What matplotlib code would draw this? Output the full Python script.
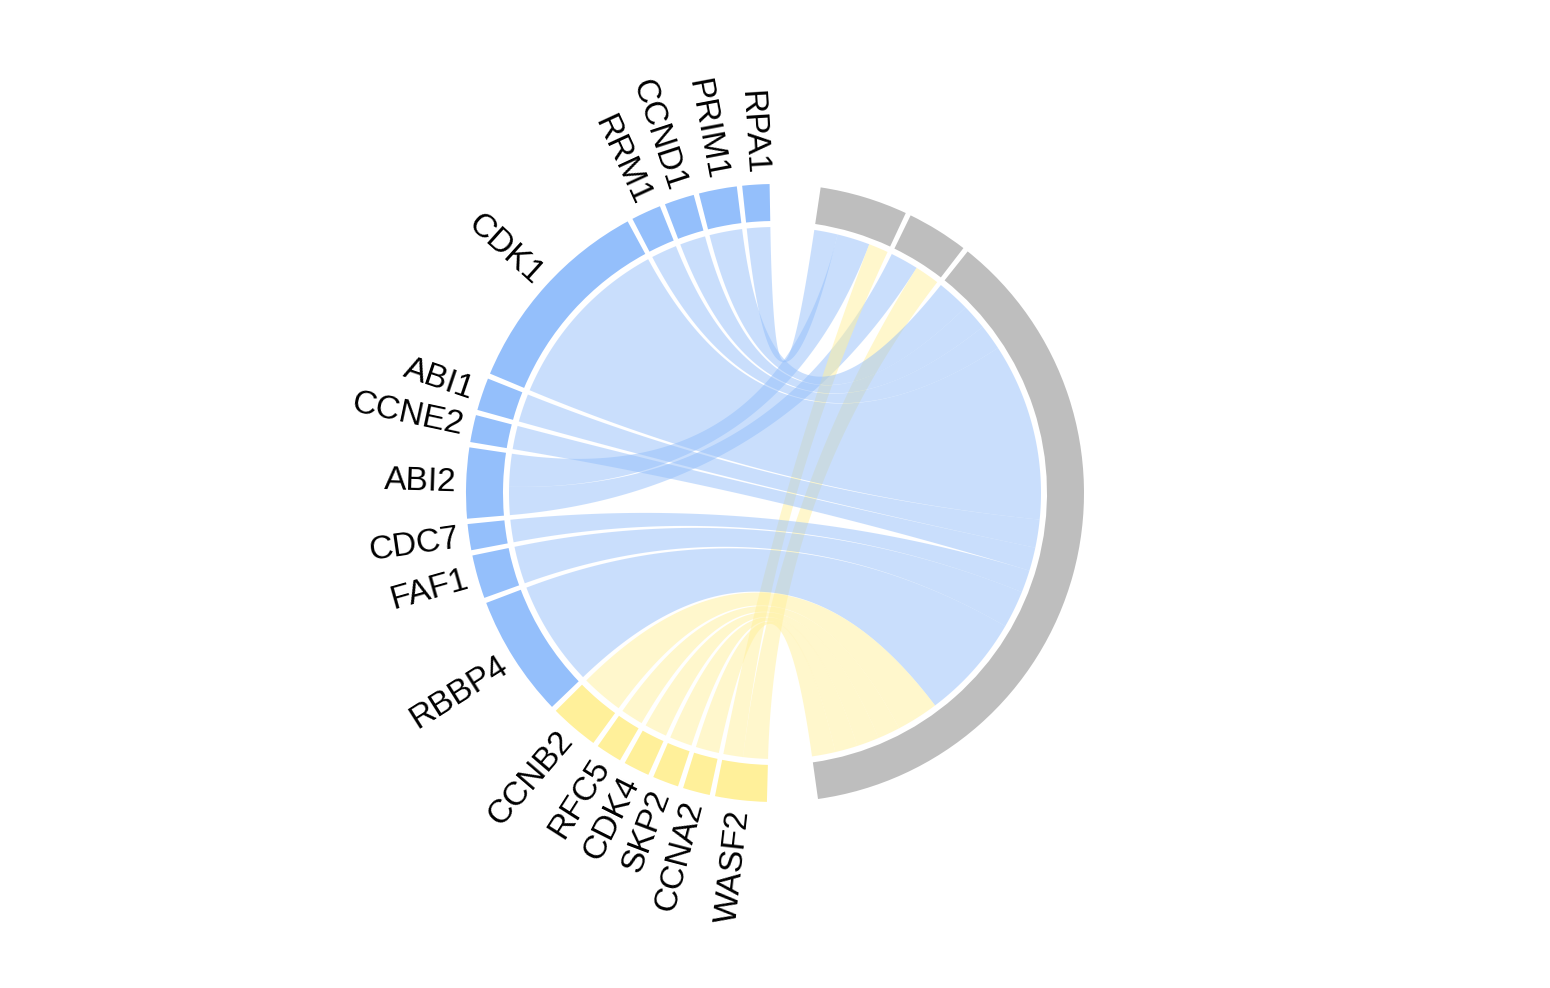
import numpy as np
import matplotlib.pyplot as plt
from matplotlib.colors import to_rgba
from matplotlib.patches import Wedge, Polygon

plt.rcParams['font.family'] = ['Liberation Sans', 'DejaVu Sans']

# grey sectors on the right (no labels), clockwise from the top
pathways = ["P1", "P2", "P3"]

# gene sectors, clockwise from the bottom gap up to the top gap
genes = ["WASF2", "CCNA2", "SKP2", "CDK4", "RFC5", "CCNB2", "RBBP4", "FAF1",
         "CDC7", "ABI2", "CCNE2", "ABI1", "CDK1", "RRM1", "CCND1", "PRIM1", "RPA1"]
yellow_genes = ["WASF2", "CCNA2", "SKP2", "CDK4", "RFC5", "CCNB2"]

# links gene -> pathway, widths
link_src = ["RPA1", "ABI2", "ABI2", "WASF2", "WASF2",
            "PRIM1", "CCND1", "RRM1", "CDK1", "ABI1", "CCNE2", "CDC7", "FAF1",
            "RBBP4", "CCNB2", "RFC5", "CDK4", "SKP2", "CCNA2"]
link_dst = ["P1", "P1", "P2", "P1", "P2",
            "P3", "P3", "P3", "P3", "P3", "P3", "P3", "P3",
            "P3", "P3", "P3", "P3", "P3", "P3"]
link_val = [5.0, 7.0, 6.0, 4.2, 5.3,
            7.0, 5.5, 5.5, 38.0, 6.0, 5.0, 4.8, 8.0,
            22.5, 9.0, 4.8, 4.8, 4.8, 5.0]

BLUE = "#94BFFB"
YELLOW = "#FFF09A"
GREY = "#BEBEBE"

cx, cy = 775, 495
r_out, r_in, r_chord = 309, 272, 266
small_gap, big_gap = 1.0, 9.5
start = 8.5  # clockwise degrees from the top where P1 begins


def color_of(name):
    if name in pathways:
        return GREY
    return YELLOW if name in yellow_genes else BLUE


order = pathways + genes
size = {n: 0.0 for n in order}
for s, d, v in zip(link_src, link_dst, link_val):
    size[s] += v
    size[d] += v

gaps = []
for n in order:
    gaps.append(big_gap if n in ("P3", "RPA1") else small_gap)
k = (360 - sum(gaps)) / sum(size.values())

span = {}
t = start
for n, g in zip(order, gaps):
    span[n] = (t, t + size[n] * k)
    t += size[n] * k + g


def mid(n):
    return 0.5 * (span[n][0] + span[n][1])


# place links inside each sector so chords do not twist
pos = {}
for n in order:
    mine = [i for i in range(len(link_val)) if link_src[i] == n or link_dst[i] == n]

    def rel(i):
        other = link_dst[i] if link_src[i] == n else link_src[i]
        return (mid(other) - mid(n)) % 360
    mine.sort(key=rel, reverse=True)
    t = span[n][0]
    for i in mine:
        pos[(n, i)] = (t, t + link_val[i] * k)
        t += link_val[i] * k


def pt(theta, r):
    a = np.radians(90 - theta)
    return np.array([cx + r * np.cos(a), cy + r * np.sin(a)])


def arc(t1, t2, r, n=60):
    return [pt(t, r) for t in np.linspace(t1, t2, n)]


def bez(p0, p2, n=100):
    c = np.array([cx, cy])
    u = np.linspace(0, 1, n)[:, None]
    return list((1 - u) ** 2 * p0 + 2 * u * (1 - u) * c + u ** 2 * p2)


fig = plt.figure(figsize=(15.5, 9.88), dpi=100)
ax = fig.add_axes([0, 0, 1, 1])
ax.set_xlim(0, 1550)
ax.set_ylim(0, 988)
ax.axis("off")

# chords
for i in range(len(link_val)):
    s1, s2 = pos[(link_src[i], i)]
    t1, t2 = pos[(link_dst[i], i)]
    pts = arc(s1, s2, r_chord)
    pts += bez(pt(s2, r_chord), pt(t1, r_chord))
    pts += arc(t1, t2, r_chord)
    pts += bez(pt(t2, r_chord), pt(s1, r_chord))
    ax.add_patch(Polygon(np.array(pts), closed=True,
                         facecolor=to_rgba(color_of(link_src[i]), 0.5),
                         edgecolor="none", zorder=2))

# outer track
for n in order:
    a, b = span[n]
    ax.add_patch(Wedge((cx, cy), r_out, 90 - b, 90 - a, width=r_out - r_in,
                       facecolor=color_of(n), edgecolor="none", zorder=3))

# gene labels
for n in genes:
    phi = 90 - mid(n)
    x, y = pt(mid(n), r_out + 10)
    ax.text(x, y, n, rotation=phi + 180, rotation_mode="anchor",
            ha="right", va="center", fontsize=24, color="black")

fig.savefig("out.png", dpi=100)
